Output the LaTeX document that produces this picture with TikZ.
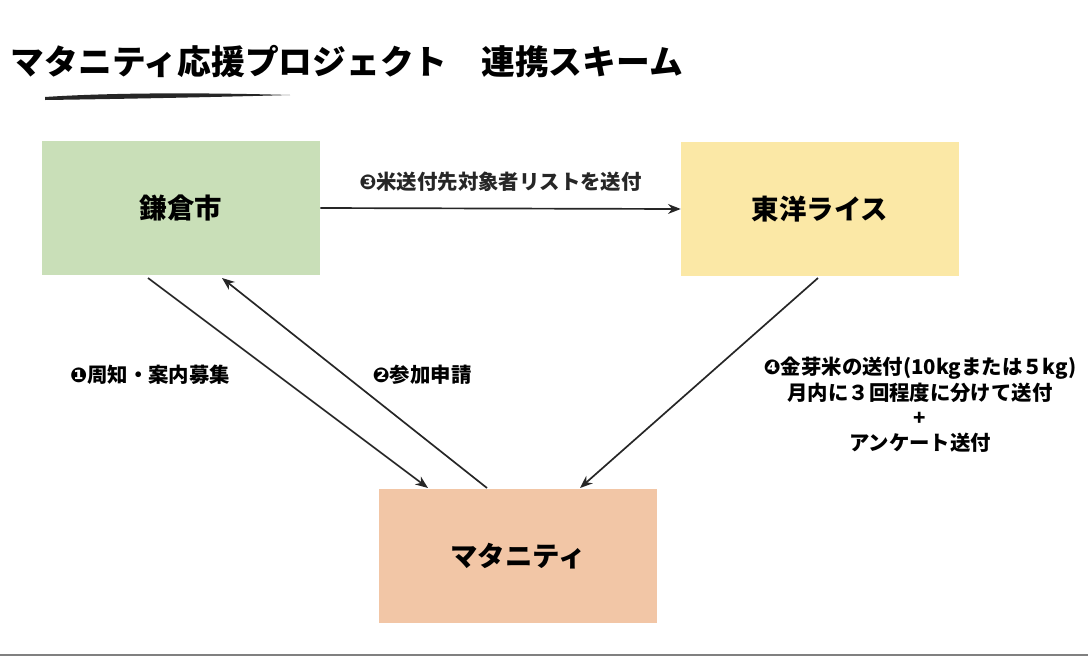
\documentclass[tikz,border=0pt]{standalone}
\usepackage{fontspec}
\setmainfont{Noto Sans CJK JP}
\newfontfamily\djv{DejaVu Sans}
\usetikzlibrary{arrows.meta}
\begin{document}
\begin{tikzpicture}[x=0.025cm,y=-0.025cm,
  box/.style={draw=none,minimum width=278*0.025cm,minimum height=134*0.025cm,inner sep=0,font=\fontsize{19.5}{22}\selectfont\bfseries},
  arr/.style={-{Stealth[length=9pt,width=7pt]},line width=1.2pt,black!85},
  lab/.style={font=\fontsize{14.5}{18}\selectfont\bfseries,align=center}]
\useasboundingbox (0,0) rectangle (1088,660);
\fill[white] (0,0) rectangle (1088,660);
\draw[gray,line width=1pt] (0,655) -- (1088,655);
\node[anchor=west,font=\fontsize{24}{28}\selectfont\bfseries] (title) at (6,62) {マタニティ応援プロジェクト　連携スキーム};
\fill[black!85] (45,97) .. controls (120,92) and (220,93) .. (290,95) .. controls (220,97) and (120,99) .. (45,100) -- cycle;
\node[box,fill={rgb,255:red,201;green,223;blue,184}] (k) at (181,208) {鎌倉市};
\node[box,fill={rgb,255:red,251;green,232;blue,166}] (t) at (820,209) {東洋ライス};
\node[box,fill={rgb,255:red,242;green,198;blue,166}] (m) at (518,556) {マタニティ};
\draw[arr] (k.east) -- (t.west) node[midway,above=8pt,lab] (l3) {{\djv ❸}米送付先対象者リストを送付};
\coordinate (k1) at (148,278); \coordinate (m1) at (428,488);
\coordinate (m2) at (487,488); \coordinate (k2) at (222,278);
\coordinate (t1) at (818,278); \coordinate (m3) at (580,488);
\draw[arr] (k1) -- (m1);
\draw[arr] (m2) -- (k2);
\draw[arr] (t1) -- (m3);
\node[lab] (l1) at (150,375) {{\djv ❶}周知・案内募集};
\node[lab] (l2) at (422,375) {{\djv ❷}参加申請};
\node[lab] (l4) at (920,405) {{\djv ❹}金芽米の送付(10kgまたは５kg)\\月内に３回程度に分けて送付\\+\\アンケート送付};
\end{tikzpicture}
\end{document}
